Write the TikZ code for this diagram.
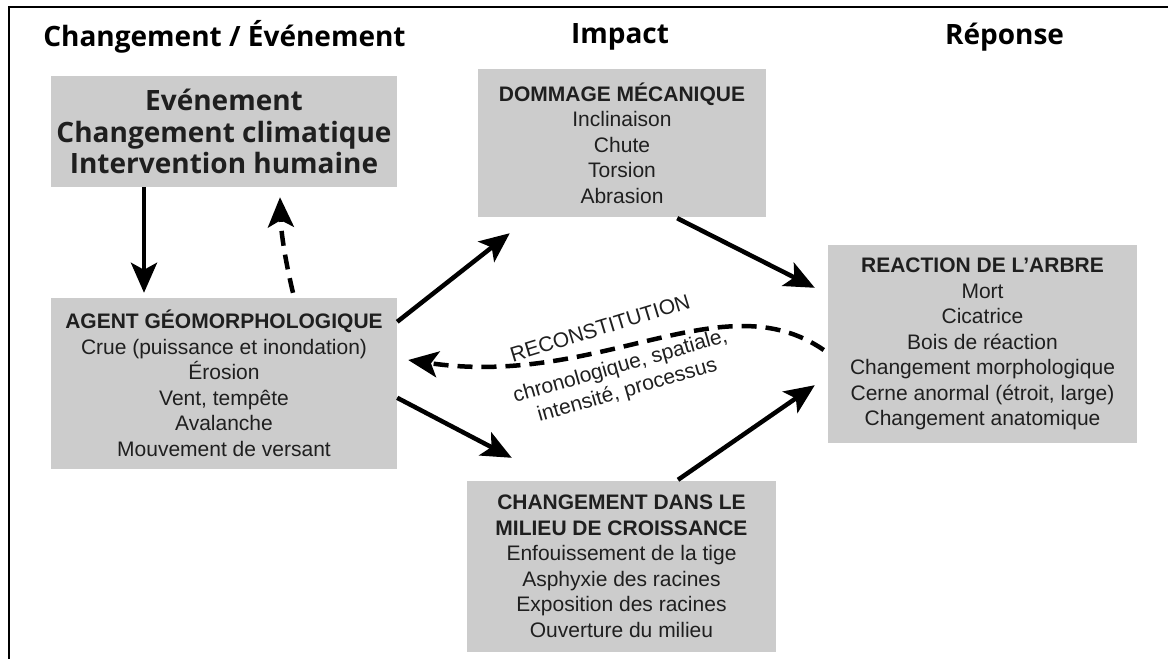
\documentclass[tikz,border=0pt]{standalone}
\usepackage{fontspec}
\setmainfont{Liberation Sans}
\newfontfamily\headfont{Open Sans}
\usetikzlibrary{arrows.meta}
\definecolor{boxgray}{gray}{0.8}
\definecolor{boxtext}{gray}{0.12}
\tikzset{
    greybox/.style={fill=boxgray, inner sep=0pt, align=center, text=boxtext,
        font=\fontsize{21}{25.5}\selectfont},
    header/.style={font=\headfont\bfseries\fontsize{28}{31.5}\selectfont},
    arr/.style={line width=4.5pt, -{Stealth[length=30pt,width=26pt,inset=7pt]}},
    dasharr/.style={arr, dash pattern=on 15pt off 9pt}
}
\begin{document}
\begin{tikzpicture}[x=1pt,y=1pt]
        \useasboundingbox (0,0) rectangle (1168,-659);
        % Draw the frame
        \draw[line width=2pt] (9,-659) -- (9,-7) -- (1168,-7);

        % Add the column titles
        \node[header] (tchange) at (224.5,-37) {Changement / Événement};
        \node[header] (timpact) at (620,-37) {Impact};
        \node[header] (treponse) at (1004.5,-37) {Réponse};

        % Draw the boxes
        \node[greybox, header, minimum width=346pt, minimum height=111pt] (evenement) at (224,-131.5)
            {Evénement\\Changement climatique\\Intervention humaine};
        \node[greybox, minimum width=346pt, minimum height=171pt] (agent) at (224,-383.5)
            {\textbf{AGENT GÉOMORPHOLOGIQUE}\\Crue (puissance et inondation)\\Érosion\\Vent, tempête\\Avalanche\\Mouvement de versant};
        \node[greybox, minimum width=288pt, minimum height=148pt] (dommage) at (622,-143)
            {\textbf{DOMMAGE MÉCANIQUE}\\Inclinaison\\Chute\\Torsion\\Abrasion};
        \node[greybox, minimum width=309pt, minimum height=198pt] (reaction) at (982.5,-344)
            {\textbf{REACTION DE L’ARBRE}\\Mort\\Cicatrice\\Bois de réaction\\Changement morphologique\\Cerne anormal (étroit, large)\\Changement anatomique};
        \node[greybox, minimum width=309pt, minimum height=171pt] (milieu) at (621.5,-566.5)
            {\textbf{CHANGEMENT DANS LE}\\\textbf{MILIEU DE CROISSANCE}\\Enfouissement de la tige\\Asphyxie des racines\\Exposition des racines\\Ouverture du milieu};

        % Draw the arrows
        \draw[arr] ([xshift=-80pt]evenement.south) -- ([xshift=-80pt,yshift=5pt]agent.north);
        \draw[dasharr] ([xshift=69pt,yshift=5pt]agent.north) .. controls (284,-255) and (281,-230) .. ([xshift=56pt,yshift=-10pt]evenement.south);
        \draw[arr] ([yshift=-24pt]agent.north east) -- ([xshift=32pt,yshift=-16pt]dommage.south west);
        \draw[arr] ([xshift=-89pt,yshift=-1pt]dommage.south east) -- ([xshift=-13pt,yshift=-43pt]reaction.north west);
        \draw[arr] ([yshift=-100pt]agent.north east) -- ([xshift=45pt,yshift=23pt]milieu.north west);
        \draw[arr] ([xshift=56.5pt,yshift=1pt]milieu.north) -- ([xshift=-13pt,yshift=58pt]reaction.south west);

        % Reconstitution
        \draw[dasharr] ([xshift=-4pt,yshift=-6pt]reaction.west) .. controls (722,-280) and (600,-388) .. ([xshift=11pt,yshift=23.5pt]agent.east);
        \node[rotate=17, font=\fontsize{21}{25}\selectfont, text=boxtext] (recon) at (600,-328) {RECONSTITUTION};
        \node[rotate=16, align=center, font=\fontsize{21}{25}\selectfont, text=boxtext] (recondetail) at (624,-379)
            {chronologique, spatiale,\\intensité, processus};
    \end{tikzpicture}
\end{document}
